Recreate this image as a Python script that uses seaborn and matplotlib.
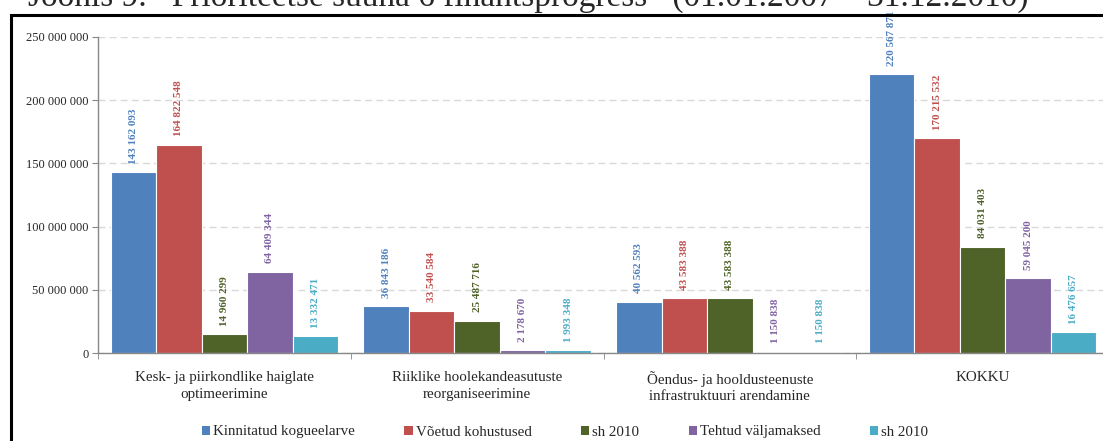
import matplotlib
matplotlib.use("Agg")
import matplotlib.pyplot as plt
import matplotlib.ticker as mticker
from matplotlib.patches import Rectangle
import pandas as pd
import seaborn as sns

# Data
categories = [
    "Kesk- ja piirkondlike haiglate\noptimeerimine",
    "Riiklike hoolekandeasutuste\nreorganiseerimine",
    "Õendus- ja hooldusteenuste\ninfrastruktuuri arendamine",
    "KOKKU",
]
series_keys = ["kogueelarve", "kohustused", "kohustused_2010", "valjamaksed", "valjamaksed_2010"]
series_labels = ["Kinnitatud kogueelarve", "Võetud kohustused", "sh 2010", "Tehtud väljamaksed", "sh 2010"]
kogueelarve = [143162093, 36843186, 40562593, 220567871]
kohustused = [164822548, 33540584, 43583388, 170215532]
kohustused_2010 = [14960299, 25487716, 43583388, 84031403]
valjamaksed = [64409344, 2178670, 1150838, 59045200]
valjamaksed_2010 = [13332471, 1993348, 1150838, 16476657]
colors = ["#4F81BD", "#C0504D", "#4F6228", "#8064A2", "#4BACC6"]

values = [kogueelarve, kohustused, kohustused_2010, valjamaksed, valjamaksed_2010]
rows = []
for key, vals in zip(series_keys, values):
    for cat, v in zip(categories, vals):
        rows.append({"kategooria": cat, "seeria": key, "summa": v})
df = pd.DataFrame(rows)


def fmt(v, pos=None):
    return f"{v:,.0f}".replace(",", " ")


sns.set_style("white")
plt.rcParams["font.family"] = ["Liberation Serif", "DejaVu Serif"]

fig = plt.figure(figsize=(11.03, 4.41), dpi=100)
ax = fig.add_axes([98 / 1103, 88 / 441, 1011 / 1103, 316 / 441])

sns.barplot(data=df, x="kategooria", y="summa", hue="seeria", order=categories,
            hue_order=series_keys, palette=colors, saturation=1, width=0.9,
            edgecolor="white", linewidth=0.8, legend=False, ax=ax)

for cont, col in zip(ax.containers, colors):
    ax.bar_label(cont, labels=[fmt(b.get_height()) for b in cont], rotation=90,
                 padding=6, color=col, fontsize=8, fontweight="bold")

ax.set_ylim(0, 250000000)
ax.set_xlim(-0.5, 3.5)
ax.yaxis.set_major_locator(mticker.MultipleLocator(50000000))
ax.yaxis.set_major_formatter(mticker.FuncFormatter(fmt))
ax.grid(axis="y", linestyle=(0, (5, 3)), color="#d9d9d9", linewidth=1)
ax.set_axisbelow(True)
ax.set_xlabel("")
ax.set_ylabel("")
ax.tick_params(axis="y", labelsize=9, length=4, color="#888888", pad=3, left=True)
ax.tick_params(axis="x", which="major", labelsize=10.8, length=0, pad=13)
for lbl in ax.get_xticklabels():
    lbl.set_linespacing(1.35)
ax.set_xticks([-0.5, 0.5, 1.5, 2.5, 3.5], minor=True)
ax.tick_params(axis="x", which="minor", length=4, color="#888888", bottom=True)
for s in ["top", "right"]:
    ax.spines[s].set_visible(False)
for s in ["left", "bottom"]:
    ax.spines[s].set_color("#888888")
    ax.spines[s].set_linewidth(1)

handles = [Rectangle((0, 0), 1, 1, facecolor=c, edgecolor="none") for c in colors]
fig.legend(handles, series_labels, loc="center", bbox_to_anchor=(565 / 1103, 1 - 432 / 441),
           ncol=5, frameon=False, fontsize=10.8, handlelength=0.55, handleheight=0.55,
           handletextpad=0.2, columnspacing=3.3)

# outer frame and the clipped caption above it
fig.patches.append(Rectangle((11 / 1103, -0.1), 1.1, 1 - 15 / 441 + 0.1,
                             transform=fig.transFigure, fill=False,
                             edgecolor="black", linewidth=2.2))
fig.text(528 / 1103, 1 - 6 / 441,
         "Joonis 9.   Prioriteetse suuna 6 finantsprogress   (01.01.2007 – 31.12.2010)",
         ha="center", va="baseline", fontsize=24)

fig.savefig("out.png", dpi=100)
